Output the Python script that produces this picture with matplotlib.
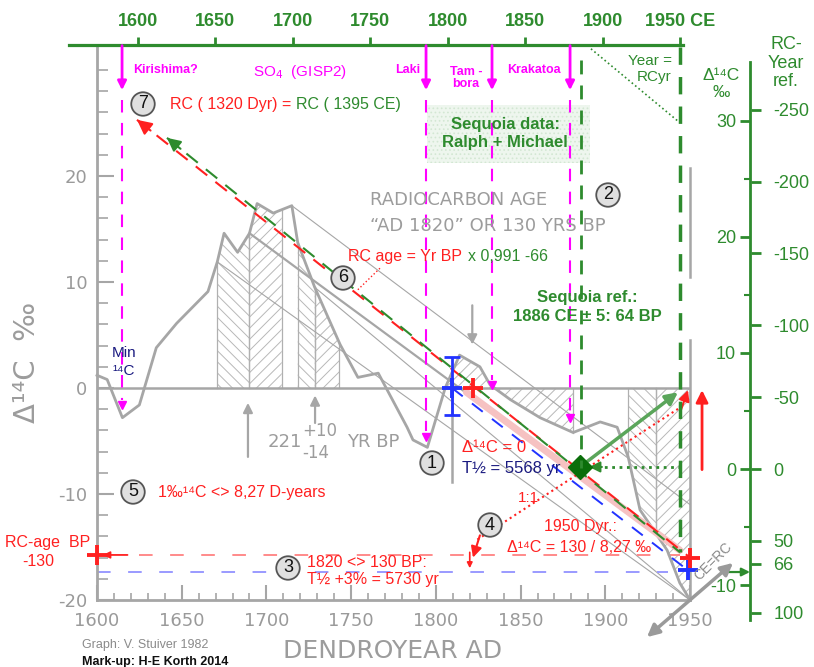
import numpy as np
import matplotlib
matplotlib.use("Agg")
import matplotlib.pyplot as plt
from matplotlib.patches import Rectangle

plt.rcParams["axes.unicode_minus"] = False
plt.rcParams["hatch.linewidth"] = 0.7

W, H = 814, 667

# tree-ring delta-14C record (dendro year AD, per mil)
curve_year = [1600, 1606, 1615, 1625, 1635, 1647, 1665.5, 1671, 1675, 1683, 1690,
              1694.5, 1704, 1715, 1718.5, 1728.5, 1743.5, 1754, 1766, 1783, 1786.5,
              1795, 1805.5, 1814, 1826, 1832, 1844, 1861.5, 1881, 1897, 1907, 1913.5,
              1920.5, 1936.5, 1944, 1950]
curve_d14c = [1.2, 0.8, -2.8, -1.6, 3.8, 6.1, 9.1, 11.9, 14.6, 12.8, 14.6,
              17.4, 16.5, 17.2, 13.7, 9.5, 4.1, 1.0, 1.4, -3.7, -4.9,
              -5.6, 0.0, 3.1, 2.0, 0.3, -1.1, -2.8, -4.2, -3.2, -3.7, -6.5,
              -11.5, -15.3, -18.4, -20.0]

# hatched calendar ranges
hatch_start = [1671, 1690, 1718.5, 1728.5, 1805.5, 1832, 1913.5, 1930]
hatch_end = [1690, 1709, 1728.5, 1743, 1832, 1881, 1930, 1950]
hatch_style = ["\\\\\\", "///", "\\\\\\", "///", "///", "///", "\\\\\\", "///"]

# constant radiocarbon-age lines
rcline_x0 = [1715, 1690, 1671, 1728.5]
rcline_y0 = [17.2, 14.6, 11.9, 9.5]
rcline_x1 = [1950, 1944, 1950, 1950]
rcline_y1 = [-11.0, -15.3, -20.0, -20.0]
rcline_w = [0.8, 1.6, 0.8, 0.8]

# mark-up lines
red_x, red_y = [1623.6, 1950.0], [25.3, -16.0]
green_x, green_y = [1641.3, 1944.1], [23.6, -15.5]
blue_x, blue_y = [1809.5, 1948.8], [0.0, -17.2]
pink_x, pink_y = [1818.0, 1944.0], [-0.4, -15.3]
red_level, blue_level = -15.75, -17.36
red_plus_x, red_plus_y = [1821.9, 1950.0, 1600.0], [0.0, -16.0, -15.75]
blue_plus_x, blue_plus_y = [1809.5, 1948.8], [0.0, -17.2]
sequoia_pt = (1885.1, -7.45)

# volcanic eruptions on the CE scale
eruption_year = [1589.7, 1786.0, 1828.6, 1879.0]
eruption_end = [-1.6, -4.6, 0.3, -2.8]

# right-hand scales
d14c_ticks = [-10, 0, 10, 20, 30]
rc_ticks = [-250, -200, -150, -100, -50, 0, 50, 66, 100]
top_ticks = [1600, 1650, 1700, 1750, 1800, 1850, 1900, 1950]

GRAY = "#a6a6a6"
RED = "#ff2020"
GREEN = "#2e8b2e"
MAG = "#ff00ff"
BLUE = "#2233ff"
NAVY = "#1a1a80"
SANS = "Liberation Sans"


def px(x, y):
    return x / W, 1 - y / H


def head(a, tip, tail, color, size=16, lw=1.5):
    a.annotate("", xy=tip, xytext=tail, annotation_clip=False,
               arrowprops=dict(arrowstyle="-|>", color=color, lw=lw,
                               mutation_scale=size, shrinkA=0, shrinkB=0,
                               clip_on=False))


fig = plt.figure(figsize=(W / 100, H / 100), dpi=100)

ax = fig.add_axes([97 / W, 67 / H, 593 / W, 555 / H])
ax.set_facecolor("none")
ax.set_xlim(1600, 1950)
ax.set_ylim(-20, 343 / 10.6)
for s in ("top", "right"):
    ax.spines[s].set_visible(False)
for s in ("left", "bottom"):
    ax.spines[s].set_color(GRAY)
    ax.spines[s].set_linewidth(2)
ax.set_xticks(range(1600, 1951, 50))
ax.set_xticks(range(1600, 1951, 10), minor=True)
ax.set_yticks([-20, -10, 0, 10, 20])
ax.set_yticklabels(["-20", "-10", "0", "10", "20"])
ax.set_yticks(range(-18, 31, 2), minor=True)
ax.tick_params(which="both", direction="in", color=GRAY, labelcolor="#9a9a9a",
               labelsize=13)
ax.tick_params(axis="x", which="major", length=11, width=1.5, pad=9)
ax.tick_params(axis="x", which="minor", length=5, width=1.2)
ax.tick_params(axis="y", which="major", length=12, width=1.5, pad=7)
ax.tick_params(axis="y", which="minor", length=8, width=1.2)

ax.axhline(0, color=GRAY, lw=1.8, zorder=2)

for s, e, h in zip(hatch_start, hatch_end, hatch_style):
    xs = np.linspace(s, e, 80)
    ys = np.interp(xs, curve_year, curve_d14c)
    ax.fill_between(xs, 0, ys, facecolor="none", edgecolor="#b8b8b8", hatch=h,
                    linewidth=0, zorder=1)
    for xv in (s, e):
        ax.plot([xv, xv], [0, np.interp(xv, curve_year, curve_d14c)],
                color="#b0b0b0", lw=0.9, zorder=1)

for x0, y0, x1, y1, w in zip(rcline_x0, rcline_y0, rcline_x1, rcline_y1, rcline_w):
    ax.plot([x0, x1], [y0, y1], color=GRAY, lw=w, zorder=2, clip_on=False)

ax.plot(curve_year, curve_d14c, color=GRAY, lw=2, zorder=3, clip_on=False)

# gray guide marks
ax.plot([1950, 1950], [20.8, 10.5], color=GRAY, lw=1.8, clip_on=False)
ax.plot([1950, 1950], [4.5, -20], color=GRAY, lw=1.8, clip_on=False)
ax.plot([1809.5, 1809.5], [0, -8.9], color=GRAY, lw=1.8)
head(ax, (1689.1, -1.4), (1689.1, -6.5), GRAY, 14, 1.6)
head(ax, (1728.7, -0.7), (1728.7, -3.3), GRAY, 14, 1.6)
head(ax, (1821.5, 4.1), (1821.5, 7.8), GRAY, 14, 1.6)

# radiocarbon mark-up
ax.plot(pink_x, pink_y, color="#f6c2c2", lw=5, solid_capstyle="round", zorder=3)
ax.plot(red_x, red_y, color=RED, lw=1.5, dashes=(7, 5), zorder=4, clip_on=False)
head(ax, (red_x[0], red_y[0]), (red_x[0] + 8, np.interp(red_x[0] + 8, red_x, red_y)), RED, 22)
ax.plot(green_x, green_y, color=GREEN, lw=1.5, dashes=(7, 5), zorder=4)
head(ax, (green_x[0], green_y[0]),
     (green_x[0] + 8, np.interp(green_x[0] + 8, green_x, green_y)), GREEN, 20)
ax.plot(blue_x, blue_y, color=BLUE, lw=1.4, dashes=(7, 6), zorder=4)
ax.plot([1625, 1944], [red_level, red_level], color="#ff8a8a", lw=1.4, dashes=(7, 9))
ax.plot([1600, 1937], [blue_level, blue_level], color="#9a9aff", lw=1.4, dashes=(7, 9),
        clip_on=False)

ax.errorbar([1809.5], [0.2], yerr=[[2.7], [2.7]], color=BLUE, lw=2, capsize=6,
            capthick=2, zorder=6)
ax.plot(blue_plus_x, blue_plus_y, "+", color=BLUE, ms=15, mew=2.8, zorder=7, clip_on=False)
ax.plot(red_plus_x, red_plus_y, "+", color=RED, ms=14, mew=2.8, zorder=7, clip_on=False)

head(ax, (1603.5, red_level), (1618, red_level), RED, 10, 1.3)
head(ax, (1820, -17.0), (1820, -15.5), RED, 8, 1.2)

# 1:1 line
ax.plot([1824.5, 1946.5], [-14.3, -1.6], color=RED, lw=1.5, ls=":", zorder=5)
head(ax, (1821.9, -16.0), (1826, -13.9), RED, 16)
head(ax, (1948.8, -0.2), (1944.6, -2.1), RED, 16)

# sequoia reference point
ax.plot([1895, 1946], [sequoia_pt[1]] * 2, color=GREEN, lw=2, ls=":", zorder=5)
head(ax, (1890.5, sequoia_pt[1]), (1898, sequoia_pt[1]), GREEN, 16)
ax.annotate("", xy=(1942.9, -0.4), xytext=sequoia_pt,
            arrowprops=dict(arrowstyle="-|>", color="#5aa55a", lw=2.5,
                            mutation_scale=18, shrinkA=0, shrinkB=0), zorder=5)
ax.plot(*sequoia_pt, marker="D", ms=12, color="#0a6e0a", zorder=8)

head(ax, (1957.1, -0.2), (1957.1, -7.7), RED, 18, 2)
head(ax, (1985.4, blue_level), (1972.4, blue_level), GREEN, 12, 1.6)
ax.annotate("", xy=(1975.4, -16.5), xytext=(1924.6, -23.5), annotation_clip=False,
            arrowprops=dict(arrowstyle="<|-|>", color="#9a9a9a", lw=2.5,
                            mutation_scale=18, shrinkA=0, shrinkB=0, clip_on=False))
ax.plot([1767, 1753.5], [11.3, 9.2], color=RED, lw=1, ls=":")

# calendar (CE) axis along the top
top = fig.add_axes([69 / W, 67 / H, 614 / W, 555 / H])
top.set_facecolor("none")
top.set_xlim(1600 + (69 - 138) / 1.5486, 1600 + (683 - 138) / 1.5486)
top.set_ylim(ax.get_ylim())
for s in ("left", "right", "bottom"):
    top.spines[s].set_visible(False)
top.spines["top"].set_color(GREEN)
top.spines["top"].set_linewidth(2.3)
top.set_yticks([])
top.xaxis.set_ticks_position("top")
top.set_xticks(top_ticks)
top.set_xticklabels([str(t) for t in top_ticks[:-1]] + ["1950 CE"])
top.tick_params(axis="x", direction="out", length=6, width=2, color=GREEN, pad=5,
                labelcolor=GREEN, labelsize=13)
for lab in top.get_xticklabels():
    lab.set_fontweight("bold")
    lab.set_fontfamily(SANS)

for x, y_end in zip(eruption_year, eruption_end):
    top.annotate("", xy=(x, 28.1), xytext=(x, 32.3),
                 arrowprops=dict(arrowstyle="-|>", color=MAG, lw=2, mutation_scale=13,
                                 shrinkA=0, shrinkB=0))
    top.plot([x, x], [27.2, y_end + 0.5], color=MAG, lw=1.5, dashes=(6, 5))
    top.plot([x], [y_end], marker="v", ms=6, color=MAG)

top.plot([1886, 1886], [30.9, -7.5], color=GREEN, lw=2, dashes=(5, 4))
top.plot([1950, 1950], [32.2, -15.5], color=GREEN, lw=2.5, dashes=(5, 3.5))
top.plot([1892.5, 1949.3], [32.0, 25.1], color=GREEN, lw=1.2, ls=":")

# delta-14C / RC-year scale on the right
gax = fig.add_axes([750 / W, 47 / H, 1 / W, 558 / H])
gax.set_facecolor("none")
gax.set_ylim(-(620 - 469) / 11.6, (469 - 62) / 11.6)
for s in ("top", "right", "bottom"):
    gax.spines[s].set_visible(False)
gax.spines["left"].set_color(GREEN)
gax.spines["left"].set_linewidth(2)
gax.set_xticks([])
gax.set_yticks(d14c_ticks)
gax.set_yticks([-5, 5, 15, 25], minor=True)
gax.tick_params(axis="y", which="major", direction="out", length=7, width=2, color=GREEN,
                labelcolor=GREEN, labelsize=13, pad=3)
gax.tick_params(axis="y", which="minor", direction="out", length=4, width=1.5, color=GREEN)
for lab in gax.get_yticklabels():
    lab.set_fontfamily(SANS)

rax = gax.twinx()
rax.set_ylim((620 - 469) / 1.437, -(469 - 62) / 1.437)
for s in rax.spines.values():
    s.set_visible(False)
rax.set_yticks(rc_ticks)
rax.tick_params(axis="y", direction="out", length=7, width=2, color=GREEN,
                labelcolor=GREEN, labelsize=13, pad=9)
for lab in rax.get_yticklabels():
    lab.set_fontfamily(SANS)

# text
box = Rectangle(px(427, 163), 163 / W, 58 / H, transform=fig.transFigure,
                facecolor="#eef6ee", edgecolor="#d3e7d3", hatch="....", lw=0, zorder=0)
fig.add_artist(box)


def t(x, y, s, color, size=11.5, ha="left", va="center", **kw):
    kw.setdefault("family", SANS)
    fig.text(*px(x, y), s, color=color, fontsize=size, ha=ha, va=va, **kw)


def badge(x, y, n):
    fig.text(*px(x, y), n, fontsize=13, ha="center", va="center", family=SANS,
             color="#111111", zorder=10,
             bbox=dict(boxstyle="circle,pad=0.18", fc="#e0e0e0", ec="#555555", lw=1.3))


t(133, 70, "Kirishima?", MAG, 9, weight="bold")
t(253, 72, "SO$_4$  (GISP2)", MAG, 11)
t(420, 70, "Laki", MAG, 9, ha="right", weight="bold")
t(466, 78, "Tam -\nbora", MAG, 9, ha="center", weight="bold", linespacing=0.95)
t(507, 70, "Krakatoa", MAG, 9, weight="bold")
t(672, 69, "Year =\nRCyr", GREEN, 11, ha="right", multialignment="right", linespacing=1.1)
t(721, 84, "Δ¹⁴C\n‰", GREEN, 12.5, ha="center", linespacing=1.2)
t(786, 63, "RC-\nYear\nref.", GREEN, 13, ha="center", linespacing=1.15)
t(505, 134, "Sequoia data:\nRalph + Michael", GREEN, 12, ha="center", weight="bold",
  linespacing=1.25)
t(170, 104, "RC ( 1320 Dyr) =", RED)
t(296, 104, "RC ( 1395 CE)", GREEN)
t(370, 200, "RADIOCARBON AGE", "#9c9c9c", 13, family="DejaVu Sans")
t(370, 226, "\u201cAD 1820\u201d OR 130 YRS BP", "#9c9c9c", 13, family="DejaVu Sans")
t(348, 256, "RC age = Yr BP", RED)
t(468, 256, "x 0,991 -66", GREEN)
t(587, 307, "Sequoia ref.:\n1886 CE ± 5: 64 BP", GREEN, 12, ha="center", weight="bold",
  linespacing=1.35)
t(112, 362, "Min\n¹⁴C", NAVY, 11, linespacing=1.3)
t(268, 442, "221", "#9c9c9c", 13, family="DejaVu Sans")
t(302, 431, "+10", "#9c9c9c", 12, family="DejaVu Sans")
t(302, 453, "-14", "#9c9c9c", 12, family="DejaVu Sans")
t(347, 442, "YR BP", "#9c9c9c", 13, family="DejaVu Sans")
t(462, 448, "Δ¹⁴C = 0", RED, 12)
t(462, 469, "T½ = 5568 yr", NAVY, 12)
t(158, 493, "1‰¹⁴C <> 8,27 D-years", RED)
t(528, 498, "1:1", RED, 11, ha="center")
t(580, 527, "1950 Dyr.:", RED, ha="center")
t(507, 547, "Δ¹⁴C = 130 / 8,27 ‰", RED)
t(5, 543, "RC-age  BP", RED)
t(22, 562, "-130", RED)
t(307, 571, "1820 <> 130 BP:\nT½ +3% = 5730 yr", RED, linespacing=1.2)
t(713, 561, "CE=RC", "#8a8a8a", 10, ha="center", rotation=45)
t(82, 645, "Graph: V. Stuiver 1982", "#8a8a8a", 9)
t(82, 662, "Mark-up: H-E Korth 2014", "#111111", 9, weight="bold")
t(393, 651, "DENDROYEAR AD", "#9c9c9c", 18, ha="center", family="DejaVu Sans")
t(27, 362, "Δ¹⁴C  ‰", "#9c9c9c", 21, ha="center", rotation=90, family="DejaVu Sans")

for x, y, n in [(143, 104, "7"), (608, 195, "2"), (343, 278, "6"), (432, 463, "1"),
                (133, 492, "5"), (288, 568, "3"), (490, 525, "4")]:
    badge(x, y, n)

fig.savefig("out.png", dpi=100)
